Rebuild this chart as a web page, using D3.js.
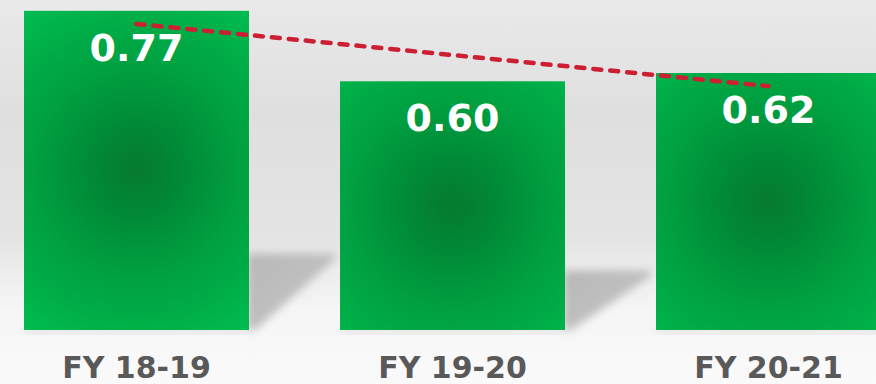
<!DOCTYPE html>
<html>
<head>
<meta charset="utf-8">
<script src="https://cdn.jsdelivr.net/npm/d3@7/dist/d3.min.js"></script>
<style>
  html, body { margin: 0; padding: 0; background: #f8f8f8; }
  svg { display: block; }
</style>
</head>
<body>
<script>
// Fiscal-year ratios
const categories = ["FY 18-19", "FY 19-20", "FY 20-21"];
const values = [0.77, 0.60, 0.62];
const valueLabels = ["0.77", "0.60", "0.62"];

const W = 876, H = 384;
const baseY = 330;

const svg = d3.select("body").append("svg")
  .attr("width", W).attr("height", H);

const defs = svg.append("defs");

// Backdrop: soft grey wall fading to a pale floor
const bg = defs.append("linearGradient").attr("id", "bg")
  .attr("x1", 0).attr("y1", 0).attr("x2", 0).attr("y2", 1);
[[0, "#e9e9e9"], [0.3, "#dfdfdf"], [0.62, "#e4e4e4"], [0.72, "#eeeeee"], [0.82, "#f6f6f6"], [1, "#fafafa"]]
  .forEach(([o, c]) => bg.append("stop").attr("offset", o).attr("stop-color", c));

svg.append("rect").attr("width", W).attr("height", H).attr("fill", "url(#bg)");

const blur = defs.append("filter").attr("id", "soft")
  .attr("x", "-30%").attr("y", "-30%").attr("width", "160%").attr("height", "160%");
blur.append("feGaussianBlur").attr("stdDeviation", 4);

// Shadow shading: darker near the bar, fading toward the lower right
const sh = defs.append("linearGradient").attr("id", "shade")
  .attr("x1", 0).attr("y1", 0).attr("x2", 1).attr("y2", 1);
[[0, "#b8b8b8"], [0.6, "#c0c0c0"], [1, "#d4d4d4"]]
  .forEach(([o, c]) => sh.append("stop").attr("offset", o).attr("stop-color", c));

const x = d3.scaleBand()
  .domain(categories)
  .range([24, 881])
  .paddingInner(0.288)
  .paddingOuter(0);

const y = d3.scaleLinear()
  .domain([0, 0.8])
  .range([baseY, baseY - 0.8 * 414.5]);

const data = categories.map((c, i) => ({ cat: c, v: values[i], label: valueLabels[i], i }));

// Cast shadows to the right of each bar
svg.append("g").selectAll("path").data(data).join("path")
  .attr("d", d => {
    const x0 = x(d.cat) + x.bandwidth();
    const h = baseY - y(d.v);
    const top = baseY - 0.24 * h;
    return `M${x0 - 2},${top} L${x0 + 86},${top} L${x0 + 86},${top + 6} L${x0 + 6},${baseY} L${x0 - 2},${baseY} Z`;
  })
  .attr("fill", "url(#shade)")
  .attr("filter", "url(#soft)");

// Faint contact shade under the bars
svg.append("g").selectAll("rect").data(data).join("rect")
  .attr("x", d => x(d.cat))
  .attr("y", baseY - 1)
  .attr("width", x.bandwidth())
  .attr("height", 4)
  .attr("fill", "#d8d8d8")
  .attr("filter", "url(#soft)");

// Radial green fill per bar
data.forEach(d => {
  const cx = x(d.cat) + x.bandwidth() / 2;
  const cy = (y(d.v) + baseY) / 2;
  const g = defs.append("radialGradient").attr("id", "bar" + d.i)
    .attr("gradientUnits", "userSpaceOnUse")
    .attr("cx", cx).attr("cy", cy).attr("r", 190);
  [[0, "#067a30"], [0.25, "#008a37"], [0.55, "#00a041"], [0.8, "#00ae48"], [1, "#00bb50"]]
    .forEach(([o, c]) => g.append("stop").attr("offset", o).attr("stop-color", c));
});

svg.append("g").selectAll("rect").data(data).join("rect")
  .attr("x", d => x(d.cat))
  .attr("y", d => y(d.v))
  .attr("width", x.bandwidth())
  .attr("height", d => baseY - y(d.v))
  .attr("fill", d => `url(#bar${d.i})`);

// Value labels
svg.append("g").selectAll("text").data(data).join("text")
  .attr("x", d => x(d.cat) + x.bandwidth() / 2)
  .attr("y", d => y(d.v) + 50)
  .attr("text-anchor", "middle")
  .attr("font-family", "'DejaVu Sans', Verdana, sans-serif")
  .attr("font-weight", "bold")
  .attr("font-size", 38)
  .attr("fill", "#ffffff")
  .text(d => d.label);

// Linear trend line across the series
const n = values.length;
const xs = d3.range(n);
const mx = d3.mean(xs), my = d3.mean(values);
const slope = d3.sum(xs, (xi, k) => (xi - mx) * (values[k] - my)) / d3.sum(xs, xi => (xi - mx) ** 2);
const intercept = my - slope * mx;
const trend = xs.map(k => ({ cat: categories[k], v: intercept + slope * k }));

svg.append("path")
  .datum(trend)
  .attr("d", d3.line()
    .x(d => x(d.cat) + x.bandwidth() / 2)
    .y(d => y(d.v)))
  .attr("fill", "none")
  .attr("stroke", "#cc1f33")
  .attr("stroke-width", 4.5)
  .attr("stroke-linecap", "round")
  .attr("stroke-dasharray", "8 9");

// Category axis labels
svg.append("g").selectAll("text").data(data).join("text")
  .attr("x", d => x(d.cat) + x.bandwidth() / 2)
  .attr("y", 378)
  .attr("text-anchor", "middle")
  .attr("font-family", "'DejaVu Sans', Verdana, sans-serif")
  .attr("font-weight", "bold")
  .attr("font-size", 30)
  .attr("fill", "#595959")
  .text(d => d.cat);
</script>
</body>
</html>
